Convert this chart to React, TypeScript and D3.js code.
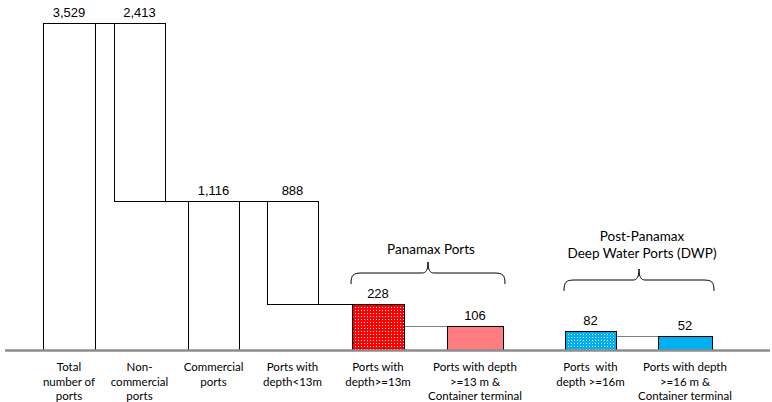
import React from 'react';
import * as d3 from 'd3';

// ---------- data ----------
const categories = [
  'Total number of ports',
  'Non-commercial ports',
  'Commercial ports',
  'Ports with depth<13m',
  'Ports with depth>=13m',
  'Ports with depth >=13 m & Container terminal',
  'Ports with depth >=16m',
  'Ports with depth >=16 m & Container terminal',
];
const categoryLines = [
  ['Total', 'number of', 'ports'],
  ['Non-', 'commercial', 'ports'],
  ['Commercial', 'ports'],
  ['Ports with', 'depth<13m'],
  ['Ports with', 'depth>=13m'],
  ['Ports with depth', '>=13 m &', 'Container terminal'],
  ['Ports  with', 'depth >=16m'],
  ['Ports with depth', '>=16 m &', 'Container terminal'],
];
const values = [3529, 2413, 1116, 888, 228, 106, 82, 52];
const floatBase = [0, 1116, 0, 228, 0, 0, 0, 0];
const groupTitles = [['Panamax Ports'], ['Post-Panamax', 'Deep Water Ports (DWP)']];
const groupMembers = [[4, 5], [6, 7]];
// waterfall connectors: [fromIndex, toIndex, level value, dotted]
const connectors: [number, number, number, boolean][] = [
  [0, 1, 3529, false],
  [1, 2, 1116, false],
  [2, 3, 1116, false],
  [3, 4, 228, false],
  [4, 5, 106, true],
  [6, 7, 52, true],
];

// ---------- layout ----------
const W = 772;
const H = 402;
const baseY = 350;
const barLeft = [43, 114, 188, 267, 352, 447, 565, 658];
const barWidth = [52, 51, 51, 51, 52, 56, 51, 54];
const barFill = ['#ffffff', '#ffffff', '#ffffff', '#ffffff', 'url(#redDots)', '#FF7C80', 'url(#blueDots)', '#00B0F0'];
const braceTipY = [262, 269];
const titleBaseY = [[254], [241, 258]];

// broken (schematic) value scale
const y = d3.scaleLinear().domain([0, 52, 228, 1116, 3529]).range([baseY, 336, 304, 201, 23]);
const fmt = d3.format(',');

const px = (v: number) => Math.round(v) + 0.5;

function bracePath(x0: number, x1: number, tipY: number) {
  const xm = (x0 + x1) / 2;
  const yH = tipY + 11;
  const yEnd = tipY + 22;
  const r = 11;
  const t = 6;
  return [
    `M${x0},${yEnd}`,
    `C${x0},${yH + 2} ${x0 + 2},${yH} ${x0 + r},${yH}`,
    `L${xm - t},${yH}`,
    `C${xm - 2},${yH} ${xm},${yH - 3} ${xm},${tipY}`,
    `C${xm},${yH - 3} ${xm + 2},${yH} ${xm + t},${yH}`,
    `L${x1 - r},${yH}`,
    `C${x1 - 2},${yH} ${x1},${yH + 2} ${x1},${yEnd}`,
  ].join(' ');
}

export default function App() {
  const numFont = '"Liberation Sans", Arial, sans-serif';
  const catFont = 'Lato, "Open Sans", sans-serif';
  return (
    <svg width={W} height={H} viewBox={`0 0 ${W} ${H}`} style={{ position: 'absolute', left: 0, top: 0, background: '#fff' }}>
      <defs>
        <pattern id="redDots" x="0" y="0" width="3" height="3" patternUnits="userSpaceOnUse">
          <rect x="0" y="0" width="3" height="3" fill="rgb(255,0,0)" />
          <rect x="1" y="1" width="1" height="1" fill="rgb(255,255,255)" />
        </pattern>
        <pattern id="blueDots" x="0" y="0" width="3" height="3" patternUnits="userSpaceOnUse">
          <rect x="0" y="0" width="3" height="3" fill="rgb(0,176,240)" />
          <rect x="1" y="1" width="1" height="1" fill="rgb(255,255,255)" />
        </pattern>
      </defs>
      <rect width={W} height={H} fill="#fff" />

      {/* bars */}
      {values.map((v, i) => {
        const top = y(floatBase[i] + v);
        const bot = y(floatBase[i]);
        return (
          <rect
            key={categories[i]}
            x={px(barLeft[i])}
            y={px(top)}
            width={barWidth[i]}
            height={Math.round(bot) - Math.round(top)}
            fill={barFill[i]}
            stroke="#000"
            strokeWidth={1}
          />
        );
      })}

      {/* connectors */}
      {connectors.map(([a, b, lv, dotted], k) => (
        <line
          key={k}
          x1={barLeft[a] + barWidth[a] + 0.5}
          x2={barLeft[b] + 0.5}
          y1={px(y(lv))}
          y2={px(y(lv))}
          stroke="#000"
          strokeWidth={1}
          strokeDasharray={dotted ? '1,1' : undefined}
        />
      ))}

      {/* baseline */}
      <line x1={5} x2={770} y1={350.5} y2={350.5} stroke="#8c8c8c" strokeWidth={2.5} />

      {/* value labels */}
      {values.map((v, i) => (
        <text
          key={'v' + i}
          x={barLeft[i] + barWidth[i] / 2}
          y={y(floatBase[i] + v) - 6}
          textAnchor="middle"
          fontFamily={numFont}
          fontSize={13}
          fill="#000"
        >
          {fmt(v)}
        </text>
      ))}

      {/* category labels */}
      {categoryLines.map((lines, i) => (
        <text
          key={'c' + i}
          textAnchor="middle"
          fontFamily={catFont}
          fontSize={11.5}
          fill="#000"
          style={{ whiteSpace: 'pre' }}
        >
          {lines.map((ln, j) => (
            <tspan key={j} x={barLeft[i] + barWidth[i] / 2} y={371 + j * 14.7}>
              {ln}
            </tspan>
          ))}
        </text>
      ))}

      {/* group braces and titles */}
      {groupMembers.map((m, g) => {
        const x0 = barLeft[m[0]] - 1;
        const x1 = barLeft[m[m.length - 1]] + barWidth[m[m.length - 1]] + 2;
        const xm = (x0 + x1) / 2;
        return (
          <g key={'g' + g}>
            <path d={bracePath(x0, x1, braceTipY[g])} fill="none" stroke="#000" strokeWidth={1} />
            <text textAnchor="middle" fontFamily={catFont} fontSize={13.5} fill="#000">
              {groupTitles[g].map((t, j) => (
                <tspan key={j} x={xm + 3} y={titleBaseY[g][j]}>
                  {t}
                </tspan>
              ))}
            </text>
          </g>
        );
      })}
    </svg>
  );
}
